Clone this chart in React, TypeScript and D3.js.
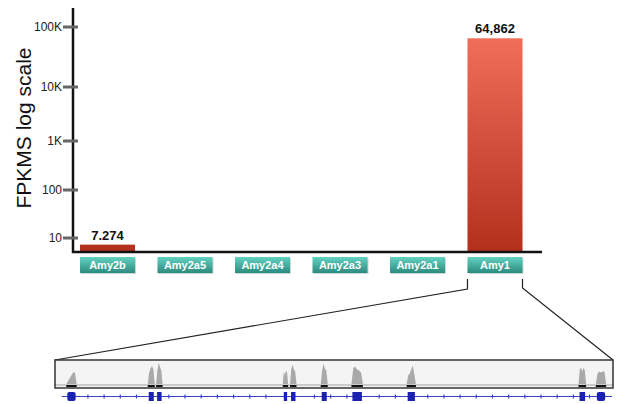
import * as d3 from "d3";

const genes = ["Amy2b", "Amy2a5", "Amy2a4", "Amy2a3", "Amy2a1", "Amy1"];
const fpkms = [7.274, 0, 0, 0, 0, 64862];
const valueLabels = ["7.274", "", "", "", "", "64,862"];
const yTicks = [10, 100, 1000, 10000, 100000];
const yTickLabels = ["10", "100", "1K", "10K", "100K"];

// Amy1 locus track, positions in track units (0-1000)
const exonStarts = [22, 168, 183, 410, 423, 478, 533, 632, 940, 971];
const exonEnds = [37, 177, 191, 416, 431, 487, 550, 645, 950, 986];
const coverage = [
  [0, 3, 6, 9, 12, 12, 0],
  [0, 12, 16, 19, 15, 0],
  [0, 14, 22, 18, 14, 0],
  [0, 13, 9, 14, 12, 0],
  [0, 16, 20, 15, 13, 0],
  [0, 14, 21, 16, 14, 0],
  [0, 17, 18, 15, 14, 12, 0],
  [0, 9, 11, 15, 19, 10, 0],
  [0, 15, 17, 13, 17, 14, 0],
  [0, 11, 13, 12, 13, 13, 0],
];
const geneStart = 12;
const geneEnd = 1000;

const W = 617;
const H = 404;
const axisX = 73;
const axisTop = 8;
const baseY = 252;
const font = "'Liberation Sans', Arial, Helvetica, sans-serif";

export default function App() {
  const x = d3
    .scaleBand<string>()
    .domain(genes)
    .range([80, 522.5])
    .paddingInner(0.29)
    .paddingOuter(0);

  // hand-drawn log axis: decades are not evenly spaced
  const y = d3
    .scaleLog()
    .domain(yTicks)
    .range([238, 190, 141, 87, 27]);

  const tx = d3.scaleLinear().domain([0, 1000]).range([55, 613]);
  const cov = d3.scaleLinear().domain([0, 25]).range([384, 360]);

  const boxTop = 360;
  const boxH = 28;
  const geneY = 396.5;

  const area = d3
    .area<[number, number]>()
    .x((d) => d[0])
    .y0(cov(0))
    .y1((d) => cov(d[1]));

  const peaks = coverage.map((prof, i) => {
    const s = tx(exonStarts[i]) - 1;
    const e = tx(exonEnds[i]) + 1;
    const px = d3.scaleLinear().domain([0, prof.length - 1]).range([s, e]);
    return area(prof.map((v, j) => [px(j), v] as [number, number]));
  });

  const inExon = (p: number) =>
    exonStarts.some((s, i) => p >= s - 6 && p <= exonEnds[i] + 6);
  const arrowTicks = d3
    .range(geneStart + 18, geneEnd, 29)
    .filter((p) => !inExon(p));

  const a1 = x("Amy1") as number;
  const a1r = a1 + x.bandwidth();

  return (
    <svg
      width={W}
      height={H}
      style={{ position: "absolute", left: 0, top: 0, background: "#fff" }}
      fontFamily={font}
    >
      <defs>
        <linearGradient id="bar" gradientUnits="userSpaceOnUse" x1="0" x2="0" y1="40" y2={baseY}>
          <stop offset="0%" stopColor="#ee6e5a" />
          <stop offset="100%" stopColor="#b3301d" />
        </linearGradient>
        <linearGradient id="teal" x1="0" x2="0" y1="0" y2="1">
          <stop offset="0%" stopColor="#63d2c2" />
          <stop offset="100%" stopColor="#2c8a7e" />
        </linearGradient>
      </defs>

      {/* y title */}
      <text
        transform={`translate(31, 128) rotate(-90)`}
        textAnchor="middle"
        fontSize={21}
        fill="#111"
      >
        FPKMS log scale
      </text>

      {/* bars */}
      {genes.map((g, i) =>
        fpkms[i] > 0 ? (
          <g key={g}>
            <rect
              x={x(g)}
              y={y(fpkms[i])}
              width={x.bandwidth()}
              height={baseY - y(fpkms[i])}
              fill="url(#bar)"
            />
            <text
              x={(x(g) as number) + x.bandwidth() / 2}
              y={y(fpkms[i]) - 5}
              textAnchor="middle"
              fontSize={13}
              fontWeight="bold"
              fill="#111"
            >
              {valueLabels[i]}
            </text>
          </g>
        ) : null
      )}

      {/* axes */}
      <line x1={axisX} x2={axisX} y1={axisTop} y2={baseY + 1} stroke="#111" strokeWidth={2.5} />
      <line x1={axisX - 1} x2={542} y1={baseY} y2={baseY} stroke="#111" strokeWidth={2.5} />
      {yTicks.map((t, i) => (
        <g key={t}>
          <line x1={63} x2={78} y1={y(t)} y2={y(t)} stroke="#666" strokeWidth={3} />
          <text
            x={62}
            y={y(t)}
            dy="0.35em"
            textAnchor="end"
            fontSize={12}
            fill="#222"
          >
            {yTickLabels[i]}
          </text>
        </g>
      ))}

      {/* category labels */}
      {genes.map((g) => (
        <g key={g}>
          <rect x={(x(g) as number) + 1} y={258} width={x.bandwidth()} height={16} fill="#cfd8d6" />
          <rect x={x(g)} y={257} width={x.bandwidth()} height={16} fill="url(#teal)" />
          <text
            x={(x(g) as number) + x.bandwidth() / 2}
            y={269}
            textAnchor="middle"
            fontSize={11}
            fontWeight="bold"
            fill="#fff"
          >
            {g}
          </text>
        </g>
      ))}

      {/* zoom bracket */}
      <polyline
        points={`${a1},279 ${a1},289 ${tx(0)},${boxTop}`}
        fill="none"
        stroke="#222"
        strokeWidth={1.2}
      />
      <polyline
        points={`${a1r},279 ${a1r},288 ${tx(1000)},${boxTop}`}
        fill="none"
        stroke="#222"
        strokeWidth={1.2}
      />

      {/* coverage track */}
      <rect x={tx(0)} y={boxTop} width={tx(1000) - tx(0)} height={boxH} fill="#f4f4f4" />
      <line x1={tx(0)} x2={tx(1000)} y1={385} y2={385} stroke="#a0a0a0" strokeWidth={1} />
      {peaks.map((p, i) => (
        <path key={i} d={p ?? undefined} fill="#a9a9a9" />
      ))}
      {exonStarts.map((s, i) => (
        <line
          key={i}
          x1={tx(s) - 1}
          x2={tx(exonEnds[i]) + 1}
          y1={386}
          y2={386}
          stroke="#111"
          strokeWidth={2}
        />
      ))}
      <rect
        x={tx(0)}
        y={boxTop}
        width={tx(1000) - tx(0)}
        height={boxH}
        fill="none"
        stroke="#333"
        strokeWidth={1.5}
      />

      {/* gene model */}
      <line x1={tx(geneStart)} x2={tx(geneEnd) - 1} y1={geneY} y2={geneY} stroke="#3b44c8" strokeWidth={1} />
      {arrowTicks.map((p) => (
        <line key={p} x1={tx(p)} x2={tx(p)} y1={geneY - 2} y2={geneY + 2} stroke="#3b44c8" strokeWidth={1.2} />
      ))}
      {exonStarts.map((s, i) => (
        <rect
          key={i}
          x={tx(s)}
          y={geneY - 4.5}
          width={tx(exonEnds[i]) - tx(s)}
          height={9}
          rx={i === 0 || i === exonStarts.length - 1 ? 2 : 0}
          fill="#1b22b0"
        />
      ))}
    </svg>
  );
}
